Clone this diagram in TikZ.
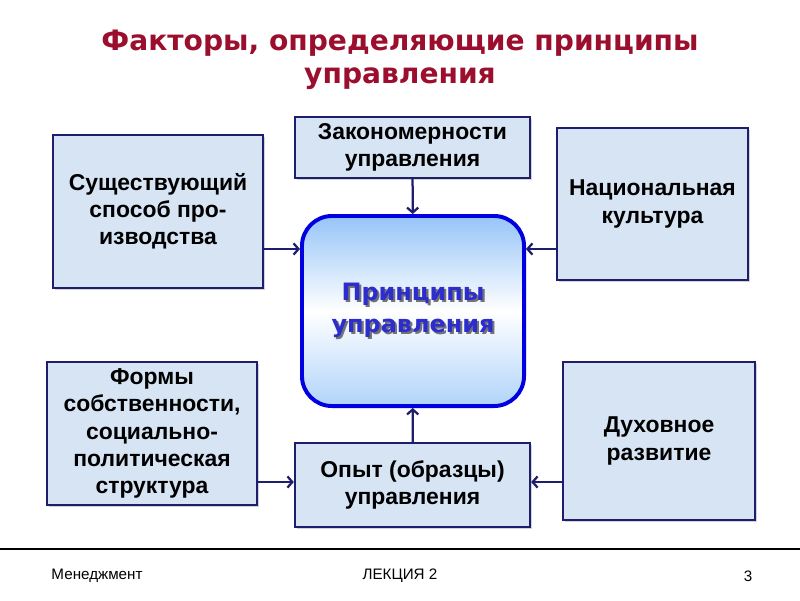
\documentclass[tikz,border=0pt]{standalone}
\usepackage{fontspec}
\setmainfont{Liberation Sans}
\newfontfamily\headfont{DejaVu Sans}
\usetikzlibrary{shadows,arrows.meta}

\definecolor{titlered}{RGB}{155,14,45}
\definecolor{boxfill}{RGB}{214,228,244}
\definecolor{boxline}{RGB}{30,30,110}
\definecolor{coreline}{RGB}{0,0,225}
\definecolor{coretop}{RGB}{150,196,248}
\definecolor{corebot}{RGB}{176,212,250}
\definecolor{coretext}{RGB}{45,45,205}

\newcommand\shtext[1]{\makebox[0pt][l]{\hspace{1.5pt}\raisebox{-1.5pt}{\textcolor{black!55}{#1}}}#1}

\tikzset{
  factor/.style={shape=rectangle, draw=boxline, line width=1.6pt, fill=boxfill,
    align=center, font=\fontsize{16.3}{19.3}\selectfont\bfseries,
    drop shadow={shadow xshift=1.2pt, shadow yshift=-1.2pt, opacity=0.35}},
  core/.style={shape=rectangle, rounded corners=0.75cm, draw=coreline, line width=2.8pt,
    top color=coretop, bottom color=corebot, middle color=white, align=center,
    text=coretext, font=\headfont\fontsize{17}{22.7}\selectfont\bfseries},
  link/.style={-{Straight Barb[length=3.5pt, width=8pt]}, draw=boxline, line width=1.6pt}
}

\begin{document}
\begin{tikzpicture}[x=0.025cm, y=-0.025cm]
\useasboundingbox (0,0) rectangle (800,600);

\node (t1)[align=center, text=titlered, font=\headfont\fontsize{20}{23.5}\selectfont\bfseries]
  at (400,60){
    Факторы, определяющие принципы \\ управления
  };

\node (z0)[core, minimum width=5.55cm, minimum height=4.75cm]
  at (413,311){
    \shtext{Принципы} \\ \shtext{управления}
  };

\node (z1)[factor, minimum width=5.25cm, minimum height=3.825cm]
  at (158,211.5){
    Существующий \\ способ про- \\ изводства
  };

\node (z2)[factor, minimum width=5.875cm, minimum height=1.525cm]
  at (412.5,147.5){
    Закономерности \\ управления
  };

\node (z3)[factor, minimum width=4.775cm, minimum height=3.8cm]
  at (652.5,204){
    Национальная \\ культура
  };

\node (z4)[factor, minimum width=5.25cm, minimum height=3.575cm]
  at (152,433.5){
    Формы \\ собственности, \\ социально- \\ политическая \\ структура
  };

\node (z5)[factor, minimum width=5.875cm, minimum height=2.1cm]
  at (412.5,485){
    Опыт (образцы) \\ управления
  };

\node (z6)[factor, minimum width=4.8cm, minimum height=3.95cm]
  at (659,441){
    Духовное \\ развитие
  };

% levels of the side arrows
\coordinate (r1) at (0,249);
\coordinate (r2) at (0,482);

\draw[link] (z1.east |- r1) -- (z0.west |- r1);
\draw[link] (z3.west |- r1) -- (z0.east |- r1);
\draw[link] (z2) -- (z0);
\draw[link] (z5) -- (z0);
\draw[link] (z4.east |- r2) -- (z5.west |- r2);
\draw[link] (z6.west |- r2) -- (z5.east |- r2);

% footer
\coordinate (f1) at (0,549);
\coordinate (f2) at (800,549);
\draw[line width=1.4pt] (f1) -- (f2);
\node (n1)[font=\fontsize{10.8}{12}\selectfont] at (97,576){Менеджмент};
\node (n2)[font=\fontsize{10.8}{12}\selectfont] at (400,576){ЛЕКЦИЯ 2};
\node (n3)[font=\fontsize{10.8}{12}\selectfont] at (748,576){3};
\end{tikzpicture}
\end{document}
